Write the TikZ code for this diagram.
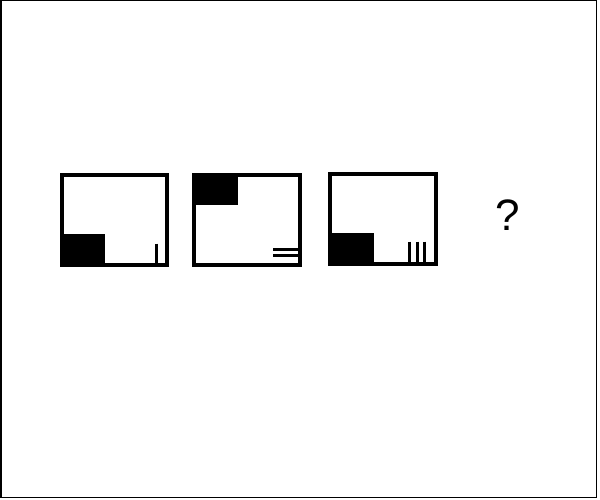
\documentclass[tikz,border=0pt]{standalone}
\usepackage{fontspec}
\setmainfont{Liberation Sans}
\begin{document}
\begin{tikzpicture}[x=1pt,y=-1pt,
  frame/.style={draw=black,line width=4pt},
  blk/.style={fill=black},
  tick/.style={draw=black,line width=3pt}]
\useasboundingbox (0,0) rectangle (600,500);
\fill[white] (0,0) rectangle (600,500);
\draw[line width=1.5pt] (0.75,0.75) rectangle (596.5,497.5);
% box 1
\fill[blk] (59.5,233.5) rectangle (104.5,266.5);
\draw[frame] (61.5,174.75) rectangle (166.75,264.75);
\draw[tick] (156,243.5) -- (156,264);
% box 2
\fill[blk] (192,172.75) rectangle (237.5,204.5);
\draw[frame] (194,174.75) rectangle (299.5,265);
\draw[tick] (273,249.7) -- (299,249.7);
\draw[tick] (273,255.7) -- (299,255.7);
% box 3
\fill[blk] (327.5,232.75) rectangle (373.5,266);
\draw[frame] (329.5,173.75) rectangle (436.25,264);
\draw[tick] (409.7,241.5) -- (409.7,263);
\draw[tick] (417,241.5) -- (417,263);
\draw[tick] (424.3,241.5) -- (424.3,263);
% question mark
\node (q) at (507.5,215.5) {\fontsize{44}{44}\selectfont ?};
\end{tikzpicture}
\end{document}
